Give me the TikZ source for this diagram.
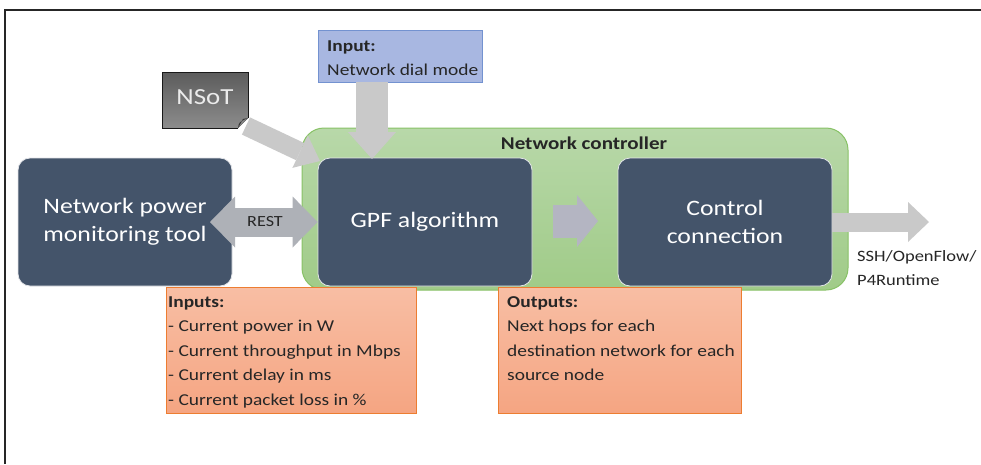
\documentclass[tikz,border=0pt]{standalone}
\usepackage{fontspec}
\setmainfont{Carlito}[FakeStretch=1.17]
\usetikzlibrary{arrows.meta,calc}
\definecolor{darkbox}{HTML}{44546A}
\definecolor{greentop}{HTML}{B8D8A9}
\definecolor{greenbot}{HTML}{A0CB88}
\definecolor{greenline}{HTML}{88C266}
\definecolor{bluefill}{HTML}{A8B7E1}
\definecolor{blueline}{HTML}{7392D0}
\definecolor{orangetop}{HTML}{F8BEA4}
\definecolor{orangebot}{HTML}{F5A582}
\definecolor{orangeline}{HTML}{ED7D31}
\definecolor{arrowgray}{HTML}{C9C9C9}
\definecolor{restgray}{HTML}{AEB1B7}
\definecolor{midgray}{HTML}{B4B5C2}
\begin{document}
\begin{tikzpicture}[x=1pt,y=-1pt,
  bigtext/.style={font=\fontsize{22}{28}\selectfont},
  smalltext/.style={font=\fontsize{16.6}{24.4}\selectfont, inner sep=0pt, align=left, text=black!85},
  darknode/.style={rounded corners=12pt, fill=darkbox, draw=white!85!darkbox, line width=0.8pt,
     minimum width=214pt, minimum height=128pt, text=white, bigtext, align=center, inner sep=0pt},
  orangebox/.style={draw=orangeline, line width=0.8pt, top color=orangetop, bottom color=orangebot,
     minimum height=126pt, inner sep=0pt, anchor=north west},
  barrow/.style n args={4}{draw=#4, line width=#1,
     -{Triangle[length=#3 0 0, width=#2 0 0, line width=0pt 0 0]}},
  dbarrow/.style n args={4}{draw=#4, line width=#1,
     {Triangle[length=#3 0 0, width=#2 0 0, line width=0pt 0 0]}-{Triangle[length=#3 0 0, width=#2 0 0, line width=0pt 0 0]}}
]
\useasboundingbox (0,0) rectangle (981,464);
\fill[white] (0,0) rectangle (981,464);
% frame
\draw[line width=1.8pt, black!85] (5,464) -- (5,10) -- (981,10);

% network controller
\node[draw=greenline, line width=1pt, top color=greentop, bottom color=greenbot, rounded corners=22pt,
  minimum width=546pt, minimum height=162pt, inner sep=0pt] (ctrlr) at (575,209) {};
\node[font=\fontsize{18}{22}\selectfont\bfseries, text=black!85] (ctrlrlabel) at (584,143) {Network controller};

% main boxes
\node[darknode] (npm) at (125,222) {Network power\\monitoring tool};
\node[darknode] (gpf) at (425,222) {GPF algorithm};
\node[darknode] (cc) at (725,222) {Control\\connection};

% input box
\node[draw=blueline, line width=0.8pt, fill=bluefill, minimum width=164pt, minimum height=52pt, inner sep=0pt] (input) at (400,56) {};
\node[smalltext, anchor=north west] (inputtxt) at (327,40.5) {\textbf{Input:}\\Network dial mode};

% NSoT
\fill[top color=black!64, bottom color=black!45] (162,72) -- (248,72) -- (248,118) -- (238,128) -- (162,128) -- cycle;
\draw[line width=0.8pt, black!90] (248,118) -- (248,72) -- (162,72) -- (162,128) -- (238,128);
\fill[black!80] (238,128) .. controls (239,122) .. (248,118) -- (243,119) -- cycle;
\node[font=\fontsize{23}{26}\selectfont, text=white!92!black, inner sep=0pt] (nsot) at (205,97) {NSoT};

% arrows
\coordinate (nsotout) at (246,126);
\coordinate (gpfin) at (320,161);
\draw[barrow={19pt}{36pt}{22pt}{arrowgray}] (nsotout) -- (gpfin);

\coordinate (inA) at (372,82);
\coordinate (inB) at (372,159);
\draw[barrow={32pt}{48pt}{27pt}{arrowgray}] (inA) -- (inB);

\coordinate (restL) at (210,222);
\draw[dbarrow={29pt}{51pt}{25pt}{restgray}] (restL) -- (gpf.west);
\node[font=\fontsize{15.5}{18}\selectfont, text=black!85] (rest) at (265,222) {REST};

\coordinate (midA) at (553,221);
\coordinate (midB) at (598,221);
\draw[barrow={33pt}{52pt}{21pt}{midgray}] (midA) -- (midB);

\coordinate (outB) at (929,222);
\draw[barrow={19pt}{40pt}{21pt}{arrowgray}] (cc.east) -- (outB);
\node[smalltext, font=\fontsize{15.8}{24.4}\selectfont, anchor=north west] (ssh) at (857,250) {SSH/OpenFlow/\\P4Runtime};

% inputs / outputs
\node[orangebox, minimum width=250pt] (inputs) at (166,287) {};
\node[smalltext, anchor=north west] (inputstxt) at (168,296.5)
  {\textbf{Inputs:}\\- Current power in W\\- Current throughput in Mbps\\- Current delay in ms\\- Current packet loss in \%};
\node[orangebox, minimum width=243pt] (outputs) at (498,287) {};
\node[smalltext, anchor=north west] (outputstxt) at (507,296.5)
  {\textbf{Outputs:}\\Next hops for each\\destination network for each\\source node};
\end{tikzpicture}
\end{document}
